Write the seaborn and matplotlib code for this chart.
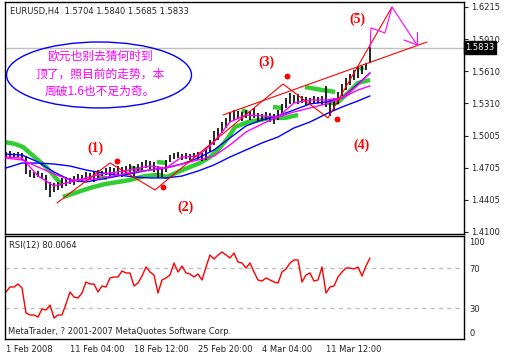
import numpy as np
import pandas as pd
import matplotlib
matplotlib.use("Agg")
import matplotlib.pyplot as plt
from matplotlib.patches import Ellipse
import seaborn as sns

sns.set_style("white")
plt.rcParams["font.family"] = ["DejaVu Sans"]

# EURUSD H4 bars (every second bar)
bar_high = [1.4851, 1.4860, 1.4841, 1.4851, 1.4841, 1.4814, 1.4683, 1.4664, 1.4673, 1.4655,
            1.4636, 1.4570, 1.4561, 1.4570, 1.4608, 1.4617, 1.4608, 1.4626, 1.4645, 1.4636,
            1.4664, 1.4655, 1.4664, 1.4683, 1.4673, 1.4702, 1.4711, 1.4702, 1.4720, 1.4711,
            1.4720, 1.4739, 1.4720, 1.4739, 1.4758, 1.4777, 1.4767, 1.4758, 1.4720, 1.4702,
            1.4777, 1.4824, 1.4841, 1.4851, 1.4832, 1.4841, 1.4832, 1.4841, 1.4851, 1.4841,
            1.4889, 1.4965, 1.5049, 1.5078, 1.5134, 1.5172, 1.5228, 1.5247, 1.5237, 1.5228,
            1.5247, 1.5237, 1.5266, 1.5219, 1.5209, 1.5228, 1.5219, 1.5209, 1.5247, 1.5304,
            1.5360, 1.5407, 1.5388, 1.5398, 1.5379, 1.5370, 1.5360, 1.5379, 1.5370, 1.5379,
            1.5471, 1.5341, 1.5360, 1.5417, 1.5491, 1.5548, 1.5585, 1.5623, 1.5652, 1.5661,
            1.5689, 1.5840]
bar_low = [1.4795, 1.4805, 1.4795, 1.4805, 1.4777, 1.4645, 1.4617, 1.4608, 1.4617, 1.4598,
           1.4495, 1.4429, 1.4476, 1.4495, 1.4514, 1.4532, 1.4551, 1.4542, 1.4570, 1.4580,
           1.4589, 1.4589, 1.4570, 1.4608, 1.4626, 1.4636, 1.4626, 1.4645, 1.4636, 1.4617,
           1.4645, 1.4664, 1.4626, 1.4664, 1.4683, 1.4702, 1.4692, 1.4664, 1.4608, 1.4617,
           1.4664, 1.4758, 1.4786, 1.4795, 1.4777, 1.4786, 1.4777, 1.4795, 1.4777, 1.4767,
           1.4777, 1.4851, 1.4918, 1.4965, 1.5030, 1.5078, 1.5134, 1.5153, 1.5162, 1.5143,
           1.5172, 1.5153, 1.5172, 1.5134, 1.5143, 1.5153, 1.5134, 1.5115, 1.5153, 1.5209,
           1.5266, 1.5304, 1.5313, 1.5304, 1.5313, 1.5294, 1.5304, 1.5304, 1.5313, 1.5294,
           1.5275, 1.5191, 1.5247, 1.5304, 1.5379, 1.5435, 1.5482, 1.5529, 1.5548, 1.5585,
           1.5623, 1.5685]

# moving averages, sampled every 4th point
ma_idx = [0, 4, 8, 12, 16, 20, 24, 28, 32, 36, 40, 44, 48, 52, 56, 60, 64, 68, 72, 76, 80, 84, 88, 91]
ma_magenta_fast = [1.4805, 1.4795, 1.4626, 1.4532, 1.4570, 1.4608, 1.4645, 1.4664, 1.4692, 1.4720,
                   1.4702, 1.4805, 1.4814, 1.4946, 1.5134, 1.5200, 1.5191, 1.5181, 1.5313, 1.5341,
                   1.5341, 1.5360, 1.5482, 1.5595]
ma_magenta_slow = [1.4795, 1.4777, 1.4711, 1.4645, 1.4589, 1.4589, 1.4608, 1.4636, 1.4664, 1.4683,
                   1.4702, 1.4739, 1.4777, 1.4814, 1.4918, 1.5040, 1.5115, 1.5181, 1.5228, 1.5266,
                   1.5304, 1.5360, 1.5435, 1.5473]
ma_blue_fast = [1.4832, 1.4824, 1.4758, 1.4664, 1.4589, 1.4570, 1.4598, 1.4626, 1.4655, 1.4683,
                1.4702, 1.4739, 1.4795, 1.4871, 1.4984, 1.5097, 1.5153, 1.5191, 1.5247, 1.5304,
                1.5322, 1.5360, 1.5491, 1.5595]
ma_blue_slow = [1.4702, 1.4748, 1.4748, 1.4739, 1.4720, 1.4683, 1.4655, 1.4636, 1.4617, 1.4608,
                1.4608, 1.4626, 1.4673, 1.4730, 1.4805, 1.4871, 1.4937, 1.4993, 1.5078, 1.5134,
                1.5209, 1.5275, 1.5332, 1.5379]

# green thick indicator, NaN separates segments
green_idx = [-0.25, 2.25, 4.25, 6, 8, 10.25, 12.25, 14, np.nan,
             14.25, 17.25, 21, 24.75, 28, 31, 34.75, 38, 40.25, 43.5, 46, 48.5, 51, 53, 55.5, 57.25,
             60.5, 63.5, 66.5, 69.75, 73, np.nan,
             22.75, 25.25, np.nan, 31, 34, np.nan, 37.75, 40.25, np.nan, 59, 60.5, np.nan,
             66.75, 69, np.nan, 74.75, 79, 82.25, np.nan, 79.75, 82.75, 85.5, 88, 91, np.nan,
             88.5, 89.25]
green_px = [1.4946, 1.4927, 1.4899, 1.4841, 1.4777, 1.4702, 1.4617, 1.4542, np.nan,
            1.4429, 1.4467, 1.4514, 1.4551, 1.4570, 1.4589, 1.4626, 1.4636, 1.4617, 1.4673,
            1.4711, 1.4748, 1.4805, 1.4871, 1.4984, 1.5087,
            1.5134, 1.5153, 1.5172, 1.5172, 1.5200, np.nan,
            1.4617, 1.4608, np.nan, 1.4702, 1.4683, np.nan, 1.4758, 1.4748, np.nan, 1.5247, 1.5219, np.nan,
            1.5275, 1.5266, np.nan, 1.5463, 1.5435, 1.5417, np.nan, 1.5313, 1.5313, 1.5407, 1.5501, 1.5529, np.nan,
            1.5651, 1.5623]

# RSI(12)
rsi = [46, 51, 51, 54, 50, 25, 23, 23, 21, 29, 28, 33, 20, 23, 23, 34, 46, 41, 40, 45,
       56, 54, 54, 46, 52, 51, 60, 61, 61, 67, 65, 65, 52, 55, 62, 71, 66, 63, 45, 58,
       60, 63, 75, 66, 72, 65, 64, 61, 64, 58, 71, 83, 79, 83, 86, 83, 80, 85, 76, 75,
       70, 75, 66, 58, 57, 60, 58, 56, 55, 66, 69, 75, 78, 78, 56, 63, 65, 57, 58, 71,
       45, 51, 52, 61, 66, 70, 70, 69, 71, 62, 72, 80]

# Elliott wave drawing
wave_idx = [12.75, 26, 37.25, 69.25, 80.5, 96.5]
wave_px = [1.4373, 1.4749, 1.4495, 1.5491, 1.5172, 1.6215]
trend_idx = [54.25, 105.25]
trend_px = [1.5200, 1.5886]
proj_idx = [91, 91.25, 94.75, 96.5, 102.75, np.nan, 102.75, 102.75, np.nan, 102.75, 99.5]
proj_px = [1.5830, 1.6018, 1.5971, 1.6215, 1.5858, np.nan, 1.5858, 1.5980, np.nan, 1.5858, 1.5905]
dot_idx = [27.75, 39.25, 70.25, 82.75]
dot_px = [1.4768, 1.4523, 1.5567, 1.5162]
label_text = ["(1)", "(2)", "(3)", "(4)", "(5)"]
label_idx = [22.25, 44.75, 65, 89, 87.75]
label_px = [1.4890, 1.4335, 1.5698, 1.4918, 1.6102]

price_ticks = [1.6215, 1.5910, 1.5610, 1.5310, 1.5005, 1.4705, 1.4405, 1.4100]
last_price = 1.5833
date_idx = [0, 16, 32, 48, 64, 80]
date_labels = ["1 Feb 2008", "11 Feb 04:00", "18 Feb 12:00", "25 Feb 20:00", "4 Mar 04:00", "11 Mar 12:00"]
note = "欧元也别去猜何时到\n顶了，照目前的走势，本\n周破1.6也不足为奇。"

bars = pd.DataFrame({"i": np.arange(len(bar_high)), "high": bar_high, "low": bar_low})
ma = pd.DataFrame({"i": ma_idx, "mf": ma_magenta_fast, "ms": ma_magenta_slow,
                   "bf": ma_blue_fast, "bs": ma_blue_slow})
osc = pd.DataFrame({"i": np.arange(len(rsi)), "rsi": rsi})

fig = plt.figure(figsize=(5.05, 3.57), dpi=100)
ax = fig.add_axes([5 / 505, 1 - 234 / 357, 459 / 505, 232 / 357])
ax2 = fig.add_axes([5 / 505, 1 - 339 / 357, 459 / 505, 103 / 357])

XL = (-0.25, 114.5)

# main panel
ax.axhline(last_price, color="#c0c0c0", lw=1, zorder=1)
ax.vlines(bars["i"], bars["low"], bars["high"], color="black", lw=1.2, zorder=3)


def segments(xs, ys):
    seg_x, seg_y = [], []
    for x, y in zip(xs, ys):
        if np.isnan(x):
            if seg_x:
                yield seg_x, seg_y
            seg_x, seg_y = [], []
        else:
            seg_x.append(x)
            seg_y.append(y)
    if seg_x:
        yield seg_x, seg_y


for gx, gy in segments(green_idx, green_px):
    sns.lineplot(x=gx, y=gy, ax=ax, color="#32cd32", lw=3.2, sort=False,
                 estimator=None, zorder=2, solid_capstyle="butt")

sns.lineplot(data=ma, x="i", y="bs", ax=ax, color="#0000ff", lw=1, zorder=4)
sns.lineplot(data=ma, x="i", y="bf", ax=ax, color="#0000ff", lw=1, zorder=4)
sns.lineplot(data=ma, x="i", y="ms", ax=ax, color="#ff00ff", lw=1, zorder=4)
sns.lineplot(data=ma, x="i", y="mf", ax=ax, color="#ff00ff", lw=1, zorder=4)

sns.lineplot(x=wave_idx, y=wave_px, ax=ax, color="#ff0000", lw=0.8, sort=False, estimator=None, zorder=5)
sns.lineplot(x=trend_idx, y=trend_px, ax=ax, color="#ff0000", lw=0.8, sort=False, estimator=None, zorder=5)
for px_, py_ in segments(proj_idx, proj_px):
    sns.lineplot(x=px_, y=py_, ax=ax, color="#ff00ff", lw=0.8, sort=False, estimator=None, zorder=5)
sns.scatterplot(x=dot_idx, y=dot_px, ax=ax, color="#ff0000", s=18, linewidth=0, zorder=6)
for t, lx, ly in zip(label_text, label_idx, label_px):
    ax.text(lx, ly, t, color="#ff0000", fontsize=10, fontweight="bold",
            family="Liberation Serif", ha="center", va="center")

ell = Ellipse((23.25, 1.5576), 46.25, 0.062, fill=False, edgecolor="#0000ff", lw=1, zorder=6)
ax.add_patch(ell)
ax.text(23.5, 1.5585, note, color="#ff00ff", fontsize=8.5, ha="center", va="center",
        linespacing=1.45, family=["Noto Sans CJK SC", "DejaVu Sans"], zorder=7)

ax.text(0.011, 0.957, "EURUSD,H4  1.5704 1.5840 1.5685 1.5833", transform=ax.transAxes,
        fontsize=6, va="center", ha="left")

ax.set_xlim(*XL)
ax.set_ylim(1.4081, 1.6262)
ax.set_xticks([])
ax.yaxis.tick_right()
ax.set_yticks(price_ticks)
ax.set_yticklabels([f"{p:.4f}" for p in price_ticks])
ax.tick_params(axis="y", length=3, width=0.8, labelsize=6, pad=2, direction="out")
ax.set_xlabel("")
ax.set_ylabel("")
ax.text(1.003, last_price, f"{last_price:.4f}", transform=ax.get_yaxis_transform(),
        color="white", fontsize=6, va="center", ha="left",
        bbox=dict(boxstyle="square,pad=0.2", fc="black", ec="black"))

# RSI panel
ax2.axhline(70, color="#c0c0c0", lw=1, ls=(0, (3, 3)))
ax2.axhline(30, color="#c0c0c0", lw=1, ls=(0, (3, 3)))
sns.lineplot(data=osc, x="i", y="rsi", ax=ax2, color="#ff0000", lw=1)
ax2.set_xlim(*XL)
ax2.set_ylim(-1, 102)
ax2.yaxis.tick_right()
ax2.set_yticks([100, 70, 30, 0])
ax2.set_yticklabels(["100", "70", "30", "0"])
ax2.tick_params(axis="y", length=0, labelsize=6, pad=4)
labs = ax2.get_yticklabels()
labs[0].set_va("top")
labs[3].set_va("bottom")
ax2.set_xticks(date_idx)
ax2.set_xticklabels(date_labels, ha="left")
ax2.tick_params(axis="x", length=3, width=0.8, labelsize=6, pad=1, direction="out")
ax2.set_xlabel("")
ax2.set_ylabel("")
ax2.text(0.009, 0.91, "RSI(12) 80.0064", transform=ax2.transAxes, fontsize=6, va="center")
ax2.text(0.006, 0.07, "MetaTrader, ? 2001-2007 MetaQuotes Software Corp.", transform=ax2.transAxes,
         fontsize=6, va="center")

for a in (ax, ax2):
    for s in a.spines.values():
        s.set_color("black")
        s.set_linewidth(1)

fig.savefig("out.png", dpi=100)
